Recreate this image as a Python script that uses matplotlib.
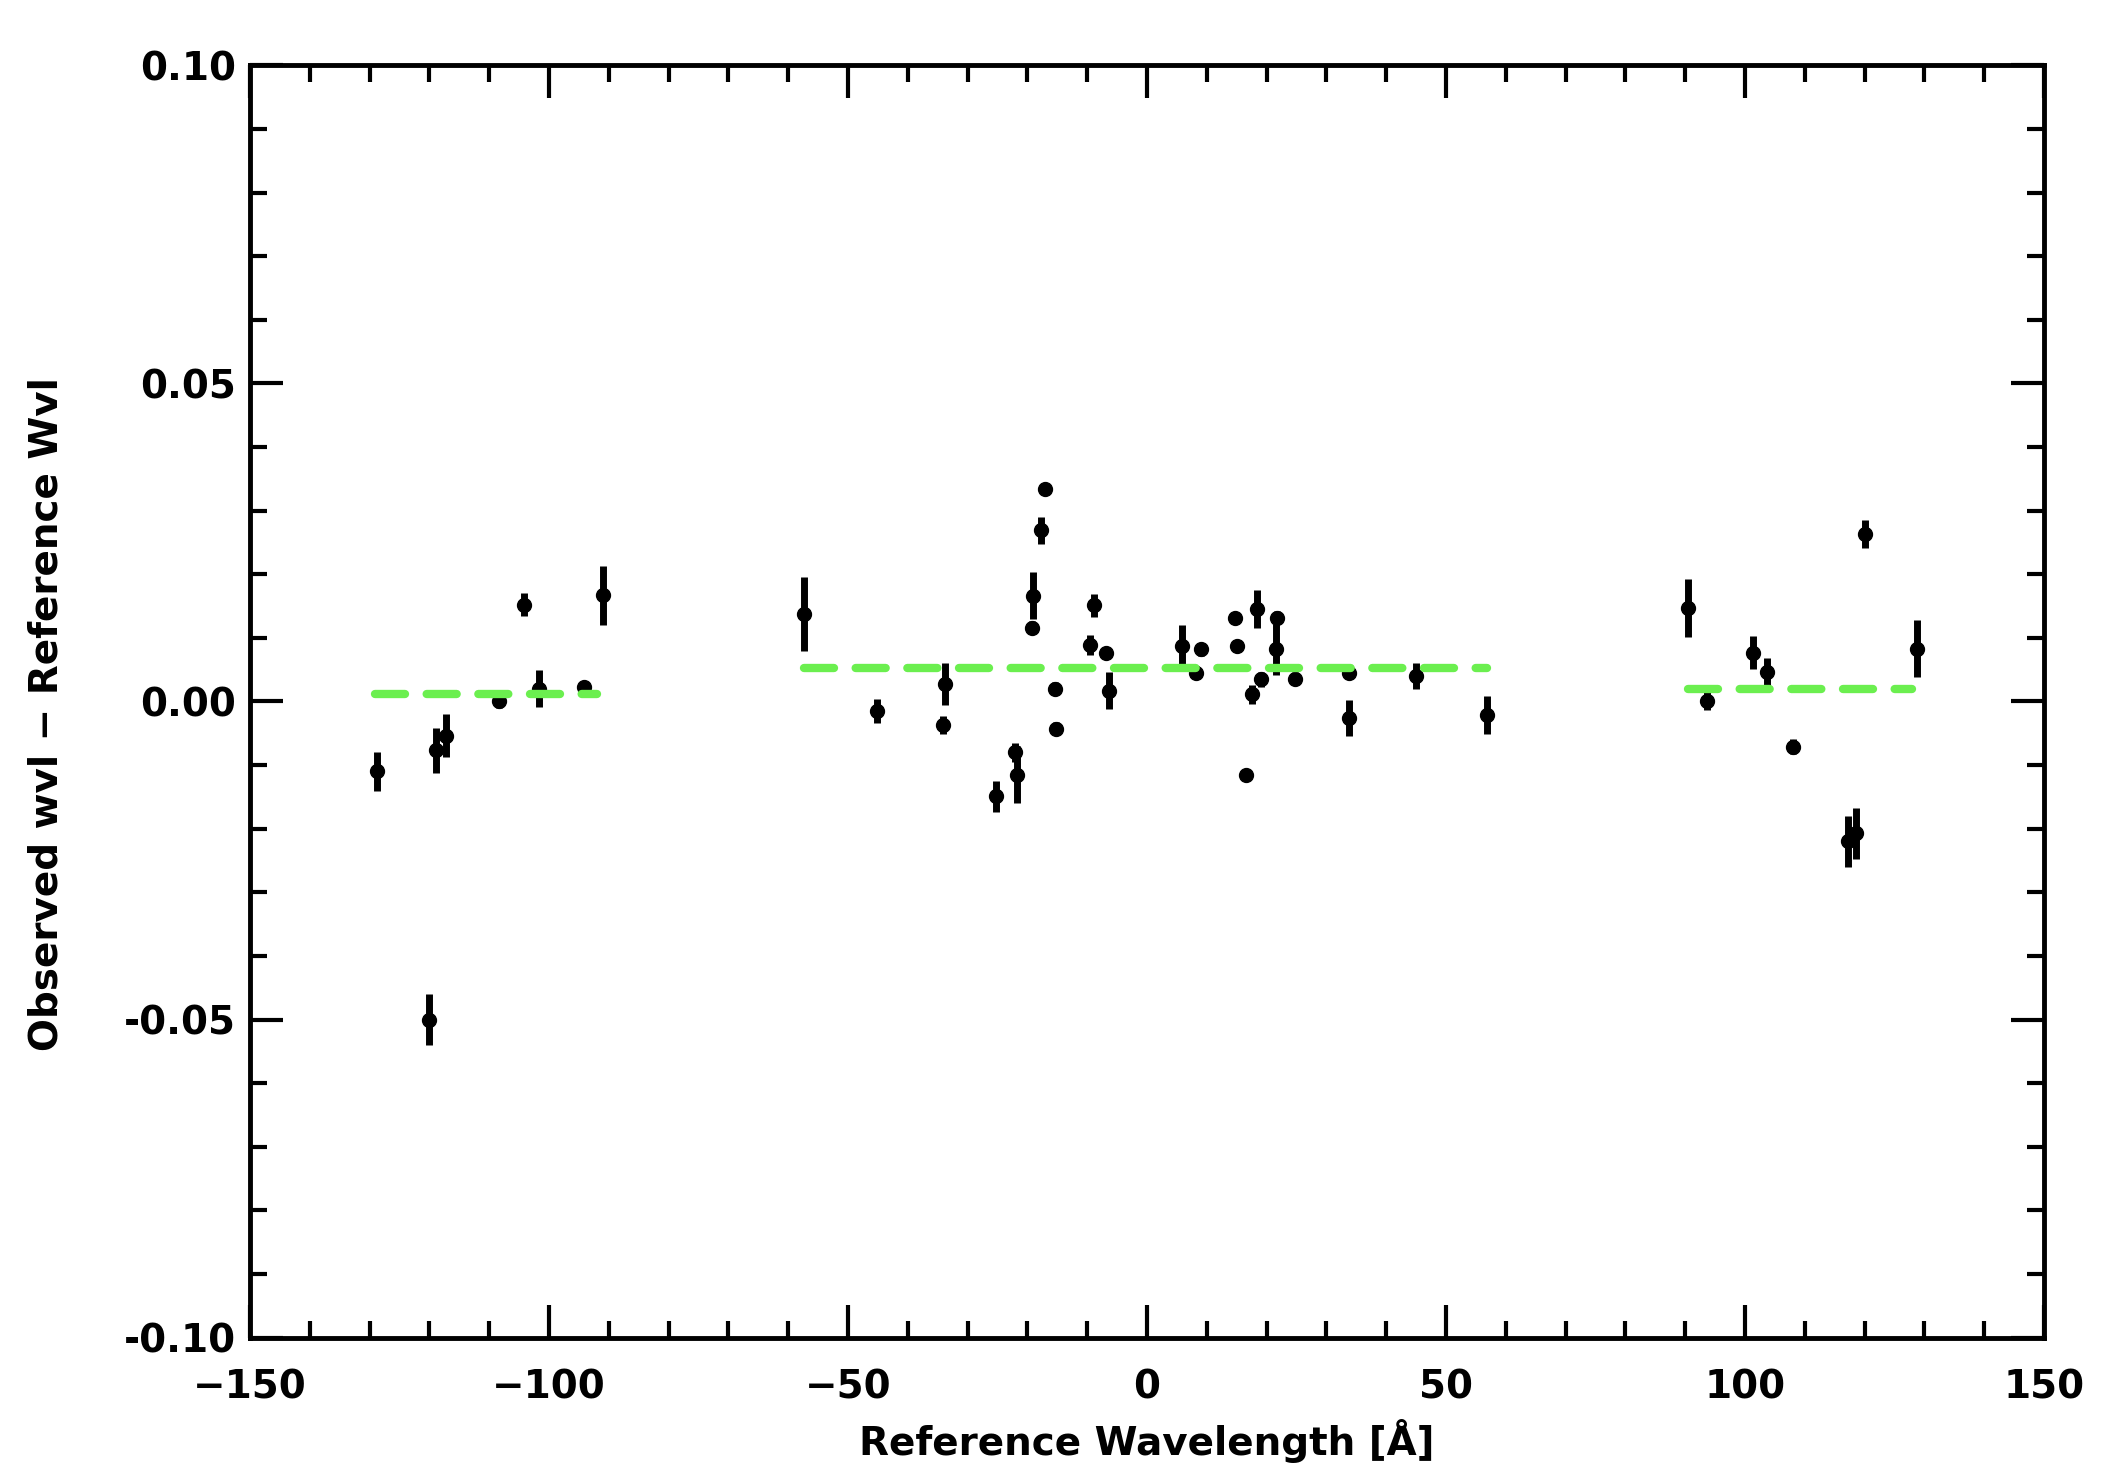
import matplotlib
matplotlib.use("Agg")
import matplotlib.pyplot as plt
from matplotlib.ticker import MultipleLocator, FormatStrFormatter

# ---- data ----
wl_left = [-128.8, -120.0, -118.9, -117.2, -108.3, -104.2, -101.6, -94.1, -90.9]
dv_left = [-0.0110, -0.0500, -0.0077, -0.0054, 0.0001, 0.0152, 0.0020, 0.0023, 0.0167]
er_left = [0.0030, 0.0040, 0.0036, 0.0034, 0.0012, 0.0018, 0.0029, 0.0008, 0.0046]

wl_mid = [-57.3, -45.2, -33.7, -34.1, -25.3, -22.1, -21.8, -19.1, -19.2, -17.7,
          -17.0, -15.4, -15.3, -9.5, -8.8, -6.8, -6.4, 5.8, 8.2, 9.1,
          14.8, 15.1, 16.6, 17.5, 19.0, 18.4, 21.6, 21.8, 24.7, 33.7,
          33.7, 45.0, 56.8]
dv_mid = [0.0137, -0.0015, 0.0028, -0.0037, -0.0149, -0.0080, -0.0115, 0.0166, 0.0116, 0.0269,
          0.0334, 0.0020, -0.0043, 0.0089, 0.0151, 0.0076, 0.0017, 0.0087, 0.0045, 0.0082,
          0.0131, 0.0087, -0.0115, 0.0011, 0.0035, 0.0146, 0.0082, 0.0132, 0.0036, 0.0045,
          -0.0026, 0.0040, -0.0021]
er_mid = [0.0058, 0.0019, 0.0033, 0.0014, 0.0024, 0.0015, 0.0045, 0.0037, 0.0010, 0.0021,
          0.0008, 0.0010, 0.0010, 0.0016, 0.0018, 0.0010, 0.0029, 0.0034, 0.0010, 0.0010,
          0.0008, 0.0008, 0.0008, 0.0015, 0.0012, 0.0030, 0.0040, 0.0010, 0.0010, 0.0010,
          0.0028, 0.0020, 0.0030]

wl_right = [90.5, 93.6, 101.3, 103.7, 108.1, 117.2, 118.5, 120.0, 128.7]
dv_right = [0.0147, 0.0001, 0.0077, 0.0046, -0.0071, -0.0220, -0.0207, 0.0264, 0.0083]
er_right = [0.0046, 0.0014, 0.0026, 0.0022, 0.0012, 0.0040, 0.0040, 0.0022, 0.0045]

# mean offsets per group (green dashed lines): start, end, level
fit_x0 = [-129.1, -57.3, 90.5]
fit_x1 = [-92.0, 56.8, 128.0]
fit_y = [0.0012, 0.0053, 0.0019]

xlim = (-150, 150)
ylim = (-0.10, 0.10)

# ---- figure ----
plt.rcParams['font.family'] = ['DejaVu Sans']
plt.rcParams['font.weight'] = 'bold'

fig = plt.figure(figsize=(21.28, 14.84), dpi=100)
ax = fig.add_axes([0.1175, 0.0986, 0.8430, 0.8574])

for wl, dv, er in [(wl_left, dv_left, er_left), (wl_mid, dv_mid, er_mid),
                   (wl_right, dv_right, er_right)]:
    ax.errorbar(wl, dv, yerr=er, fmt='o', color='black', ms=10,
                elinewidth=5, capsize=0, zorder=3)

for x0, x1, y in zip(fit_x0, fit_x1, fit_y):
    ax.plot([x0, x1], [y, y], color='#6BEF4F', lw=6,
            dashes=(3.6, 2.6), dash_capstyle='round', zorder=4)

ax.set_xlim(*xlim)
ax.set_ylim(*ylim)
ax.xaxis.set_major_locator(MultipleLocator(50))
ax.xaxis.set_minor_locator(MultipleLocator(10))
ax.yaxis.set_major_locator(MultipleLocator(0.05))
ax.yaxis.set_minor_locator(MultipleLocator(0.01))
ax.yaxis.set_major_formatter(FormatStrFormatter('%.2f'))

for s in ax.spines.values():
    s.set_linewidth(3.5)

ax.tick_params(which='both', direction='in', top=True, right=True,
               width=3.0, colors='black')
ax.tick_params(which='major', length=24)
ax.tick_params(which='minor', length=12)
ax.tick_params(axis='x', which='major', pad=22, labelsize=28)
ax.tick_params(axis='y', which='major', pad=10, labelsize=28)
for lab in ax.get_xticklabels() + ax.get_yticklabels():
    lab.set_fontweight('bold')

ax.set_xlabel('Reference Wavelength [Å]', fontsize=28, fontweight='bold')
ax.set_ylabel('Observed wvl \u2212 Reference Wvl', fontsize=28, fontweight='bold')
ax.xaxis.set_label_coords(0.5, -0.064)
ax.yaxis.set_label_coords(-0.103, 0.49)

fig.savefig('out.png', dpi=100, facecolor='white')
